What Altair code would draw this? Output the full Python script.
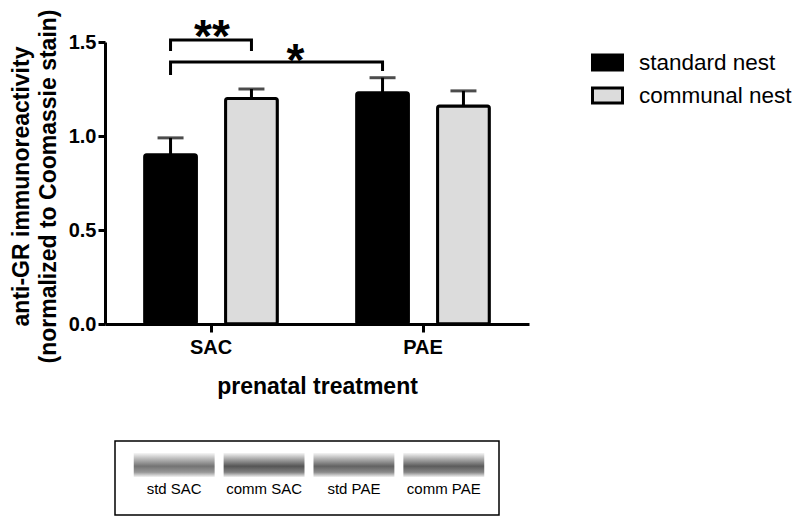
import altair as alt
import pandas as pd

FONT = "Liberation Sans"

# ---- data ----
treatments = ["SAC", "PAE"]
nests = ["standard nest", "communal nest"]
nest_colors = ["#000000", "#dcdcdc"]
means_standard = [0.90, 1.23]
means_communal = [1.20, 1.16]
sem_standard = [0.09, 0.08]
sem_communal = [0.05, 0.08]

# significance brackets
bracket_ids = ["b1", "b2"]
bracket_labels = ["**", "*"]
bracket_start = [("SAC", "standard nest"), ("SAC", "standard nest")]
bracket_end = [("SAC", "communal nest"), ("PAE", "standard nest")]
bracket_top = [1.511, 1.394]
bracket_start_leg = [1.452, 1.324]
bracket_end_leg = [1.452, 1.346]
star_level = [1.445, 1.318]

# western blot strip
blot_lanes = ["std SAC", "comm SAC", "std PAE", "comm PAE"]
blot_intensity = [0.82, 1.0, 0.92, 0.96]

# ---- tables ----
rows = []
for i, t in enumerate(treatments):
    for n, means, sems in [(nests[0], means_standard, sem_standard),
                           (nests[1], means_communal, sem_communal)]:
        rows.append({"treatment": t, "nest": n, "mean": means[i],
                     "upper": means[i] + sems[i]})
bars_df = pd.DataFrame(rows)

brows = []
for i, b in enumerate(bracket_ids):
    pts = [(bracket_start[i], bracket_start_leg[i]),
           (bracket_start[i], bracket_top[i]),
           (bracket_end[i], bracket_top[i]),
           (bracket_end[i], bracket_end_leg[i])]
    for k, ((t, n), v) in enumerate(pts):
        brows.append({"bracket": b, "step": k, "treatment": t, "nest": n, "value": v})
brackets_df = pd.DataFrame(brows)

stars_df = pd.DataFrame({"label": bracket_labels, "treatment": ["SAC", "SAC"],
                         "nest": ["standard nest", "communal nest"], "value": star_level})

blot_df = pd.DataFrame({"lane": blot_lanes, "intensity": blot_intensity})

# ---- shared encodings ----
x_scale = alt.Scale(domain=treatments, paddingInner=0, paddingOuter=0)
xo_scale = alt.Scale(domain=nests, paddingInner=0.36, paddingOuter=0.49)
y_scale = alt.Scale(domain=[0, 1.5], nice=False, zero=True)

x_axis = alt.Axis(title="prenatal treatment", labelAngle=0, domainWidth=3, domainColor="black",
                  tickWidth=3, tickColor="black", tickSize=8, labelFont=FONT,
                  labelFontWeight="bold", labelFontSize=20, labelColor="black",
                  labelPadding=5, titleFont=FONT, titleFontWeight="bold",
                  titleFontSize=23, titleColor="black", titlePadding=18)
y_axis = alt.Axis(title=["anti-GR immunoreactivity", "(normalized to Coomassie stain)"],
                  values=[0, 0.5, 1.0, 1.5], format=".1f", grid=False,
                  domainWidth=3, domainColor="black", tickWidth=3, tickColor="black",
                  tickSize=7, labelFont=FONT, labelFontWeight="bold", labelFontSize=20,
                  labelColor="black", labelPadding=2, titleFont=FONT,
                  titleFontWeight="bold", titleFontSize=23, titleColor="black",
                  titleLineHeight=27, titlePadding=8, titleY=144)

def X():
    return alt.X("treatment:N", sort=treatments, scale=x_scale, axis=x_axis)

def XO():
    return alt.XOffset("nest:N", sort=nests, scale=xo_scale)

def Y(field):
    return alt.Y(field, scale=y_scale, axis=y_axis)

bars = alt.Chart(bars_df).mark_bar(stroke="black", strokeWidth=3, cornerRadius=2).encode(
    x=X(),
    xOffset=XO(),
    y=Y("mean:Q"),
    fill=alt.Fill("nest:N", sort=nests, scale=alt.Scale(domain=nests, range=nest_colors),
                  legend=alt.Legend(title=None, orient="none", legendX=486, legendY=4,
                                    symbolType="M-1,-0.5H1V0.5H-1Z", symbolSize=900,
                                    symbolStrokeColor="black", symbolStrokeWidth=3,
                                    labelFont=FONT, labelFontSize=22.5, labelColor="black",
                                    labelOffset=15, rowPadding=3, padding=0)),
)

err_stem = alt.Chart(bars_df).mark_rule(color="black", strokeWidth=3).encode(
    x=X(), xOffset=XO(), y=Y("mean:Q"), y2="upper:Q")

err_cap = alt.Chart(bars_df).mark_tick(color="black", thickness=3, size=26).encode(
    x=X(), xOffset=XO(), y=Y("upper:Q"))

bracket_lines = alt.Chart(brackets_df).mark_line(
    color="black", strokeWidth=3, strokeCap="butt", strokeJoin="miter", clip=False).encode(
    x=X(), xOffset=XO(), y=Y("value:Q"),
    detail="bracket:N", order="step:Q")

star_text = dict(font=FONT, fontWeight="bold", fontSize=46, color="black",
                 align="center", baseline="alphabetic")
stars1 = alt.Chart(stars_df).transform_filter(alt.datum.label == "**").mark_text(
    dx=1, **star_text).encode(x=X(), y=Y("value:Q"), text="label:N")
stars2 = alt.Chart(stars_df).transform_filter(alt.datum.label == "*").mark_text(
    dx=44, **star_text).encode(x=X(), xOffset=XO(), y=Y("value:Q"), text="label:N")

main = alt.layer(bars, err_stem, err_cap, bracket_lines, stars1, stars2).properties(
    width=424, height=282)

# ---- blot strip ----
band_gradient = alt.LinearGradient(
    gradient="linear", x1=0, x2=0, y1=0, y2=1,
    stops=[alt.GradientStop(offset=0, color="#f4f4f4"),
           alt.GradientStop(offset=0.25, color="#a8a8a8"),
           alt.GradientStop(offset=0.55, color="#555555"),
           alt.GradientStop(offset=0.8, color="#808080"),
           alt.GradientStop(offset=1, color="#f0f0f0")])

lane_x = alt.X("lane:N", sort=blot_lanes,
               scale=alt.Scale(domain=blot_lanes, paddingInner=0.1, paddingOuter=0.32),
               axis=alt.Axis(title=None, orient="bottom", offset=-35, domain=False,
                             ticks=False, labelAngle=0, labelFont=FONT, labelFontSize=15,
                             labelColor="black", labelPadding=1, grid=False))

bands = alt.Chart(blot_df).mark_rect(fill=band_gradient).encode(
    x=lane_x, y=alt.value(12), y2=alt.value(36),
    opacity=alt.Opacity("intensity:Q", scale=None, legend=None))

box = alt.Chart(pd.DataFrame({"k": [0]})).mark_rect(
    fillOpacity=0, stroke="black", strokeWidth=1.5).encode(
    x=alt.value(10), x2=alt.value(394), y=alt.value(0), y2=alt.value(74))

blot = alt.layer(bands, box).properties(width=408, height=74)

chart = alt.vconcat(main, blot, spacing=117, bounds="flush").resolve_legend(
    fill="independent").configure_view(stroke=None).properties(
    padding={"left": 2, "top": 0, "right": 0, "bottom": 0})

chart.save("out.html", embed_options={"renderer": "svg", "actions": False})
